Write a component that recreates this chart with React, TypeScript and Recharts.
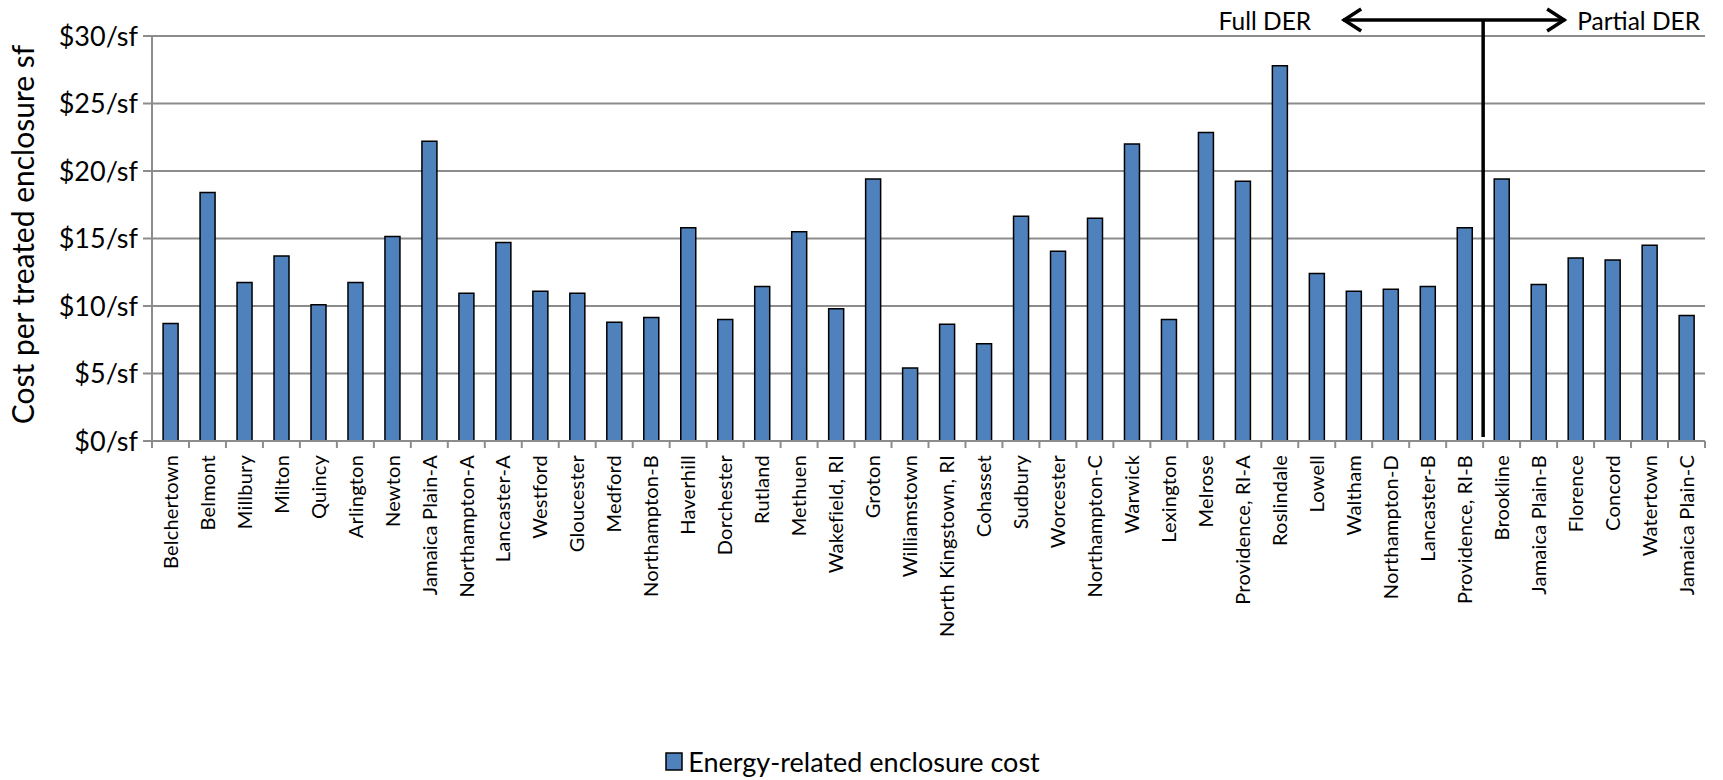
import React from "react";
import {
  BarChart,
  Bar,
  XAxis,
  YAxis,
  CartesianGrid,
  Legend,
  ReferenceLine,
} from "recharts";

const categories: string[] = [
  "Belchertown", "Belmont", "Millbury", "Milton", "Quincy", "Arlington", "Newton",
  "Jamaica Plain-A", "Northampton-A", "Lancaster-A", "Westford", "Gloucester", "Medford",
  "Northampton-B", "Haverhill", "Dorchester", "Rutland", "Methuen", "Wakefield, RI",
  "Groton", "Williamstown", "North Kingstown, RI", "Cohasset", "Sudbury", "Worcester",
  "Northampton-C", "Warwick", "Lexington", "Melrose", "Providence, RI-A", "Roslindale",
  "Lowell", "Waltham", "Northampton-D", "Lancaster-B", "Providence, RI-B", "Brookline",
  "Jamaica Plain-B", "Florence", "Concord", "Watertown", "Jamaica Plain-C",
];

const costValues: number[] = [
  8.7, 18.4, 11.75, 13.7, 10.1, 11.75, 15.15,
  22.2, 10.95, 14.7, 11.1, 10.95, 8.8,
  9.15, 15.8, 9.0, 11.45, 15.5, 9.8,
  19.4, 5.4, 8.65, 7.2, 16.65, 14.05,
  16.5, 22.0, 9.0, 22.85, 19.25, 27.8,
  12.4, 11.1, 11.25, 11.45, 15.8, 19.4,
  11.6, 13.55, 13.4, 14.5, 9.3,
];

const yTicks: number[] = [0, 5, 10, 15, 20, 25, 30];
const seriesName = "Energy-related enclosure cost";
const yAxisTitle = "Cost per treated enclosure sf";
const dividerCategory = "Brookline";
const leftLabel = "Full DER";
const rightLabel = "Partial DER";

const data = categories.map((name, i) => ({ name, cost: costValues[i] }));

const FONT = "Lato, 'Open Sans', sans-serif";
const BAR_COLOR = "#4F81BD";
const GRID_COLOR = "#8C8C8C";

const XTick = (props: any) => {
  const { x, y, payload, index, visibleTicksCount } = props;
  const half = payload && payload.offset ? payload.offset : 18.5;
  const isLast = index === (visibleTicksCount ?? categories.length) - 1;
  return (
    <g>
      <line x1={x - half} x2={x - half} y1={y} y2={y + 7} stroke={GRID_COLOR} strokeWidth={2} />
      {isLast && (
        <line x1={x + half} x2={x + half} y1={y} y2={y + 7} stroke={GRID_COLOR} strokeWidth={2} />
      )}
      <text
        transform={`translate(${x},${y + 14}) rotate(-90)`}
        textAnchor="end"
        dy="0.36em"
        fontFamily={FONT}
        fontSize={20}
        letterSpacing={0.2}
        fill="#000"
      >
        {payload.value}
      </text>
    </g>
  );
};

const YAxisTitle = (props: any) => {
  const vb = props.viewBox || { x: 0, y: 36, width: 152, height: 405 };
  const cx = vb.x + 22;
  const cy = vb.y + vb.height / 2 - 4;
  return (
    <text
      transform={`translate(${cx},${cy}) rotate(-90)`}
      textAnchor="middle"
      dominantBaseline="central"
      fontFamily={FONT}
      fontSize={30}
      fill="#000"
    >
      {yAxisTitle}
    </text>
  );
};

const DerAnnotation = (props: any) => {
  const vb = props.viewBox || { x: 0, y: 0, width: 0, height: 0 };
  const x = vb.x;
  const top = vb.y - 16;
  const bottom = vb.y + vb.height - 4;
  const left = x - 140;
  const right = x + 82;
  return (
    <g>
      <line x1={x} x2={x} y1={top} y2={bottom} stroke="#000" strokeWidth={3.5} />
      <line x1={left} x2={right} y1={top} y2={top} stroke="#000" strokeWidth={3.5} />
      <polyline
        points={`${left + 18},${top - 11} ${left + 1},${top} ${left + 18},${top + 11}`}
        fill="none"
        stroke="#000"
        strokeWidth={3.5}
      />
      <polyline
        points={`${right - 18},${top - 11} ${right - 1},${top} ${right - 18},${top + 11}`}
        fill="none"
        stroke="#000"
        strokeWidth={3.5}
      />
      <text x={x - 172} y={top} textAnchor="end" dominantBaseline="central" fontFamily={FONT} fontSize={24.5} fill="#000">
        {leftLabel}
      </text>
      <text x={x + 94} y={top} textAnchor="start" dominantBaseline="central" fontFamily={FONT} fontSize={24.5} fill="#000">
        {rightLabel}
      </text>
    </g>
  );
};

const LegendContent = () => (
  <div
    style={{
      height: 38,
      display: "flex",
      alignItems: "center",
      justifyContent: "center",
      fontFamily: FONT,
      fontSize: 27,
      color: "#000",
    }}
  >
    <svg width={18} height={19} style={{ marginRight: 5 }}>
      <rect x={1} y={1} width={16} height={17} fill={BAR_COLOR} stroke="#000" strokeWidth={1.5} />
    </svg>
    <span>{seriesName}</span>
  </div>
);

export default function App() {
  return (
    <div style={{ position: "absolute", left: 0, top: 0, width: 1723, height: 780, background: "#fff" }}>
      <BarChart
        width={1723}
        height={780}
        data={data}
        margin={{ top: 36, right: 18, left: 0, bottom: 0 }}
        barCategoryGap="30%"
      >
        <CartesianGrid vertical={false} stroke={GRID_COLOR} strokeWidth={2} />
        <XAxis
          dataKey="name"
          interval={0}
          height={301}
          tickLine={false}
          tickSize={0}
          tickMargin={0}
          axisLine={{ stroke: GRID_COLOR, strokeWidth: 2 }}
          tick={<XTick />}
        />
        <YAxis
          width={152}
          domain={[0, 30]}
          ticks={yTicks}
          interval={0}
          tickFormatter={(v: number) => `$${v}/sf`}
          tick={{ fontFamily: FONT, fontSize: 27, fill: "#000" }}
          tickLine={{ stroke: GRID_COLOR, strokeWidth: 2 }}
          tickSize={9}
          tickMargin={5}
          axisLine={{ stroke: GRID_COLOR, strokeWidth: 2 }}
          label={(p: any) => <YAxisTitle {...p} />}
        />
        <Legend verticalAlign="bottom" content={() => <LegendContent />} />
        <Bar
          dataKey="cost"
          name={seriesName}
          fill={BAR_COLOR}
          stroke="#000"
          strokeWidth={1.5}
          isAnimationActive={false}
        />
        <ReferenceLine
          x={dividerCategory}
          position="start"
          stroke="none"
          ifOverflow="visible"
          label={(p: any) => <DerAnnotation {...p} />}
        />
      </BarChart>
    </div>
  );
}
